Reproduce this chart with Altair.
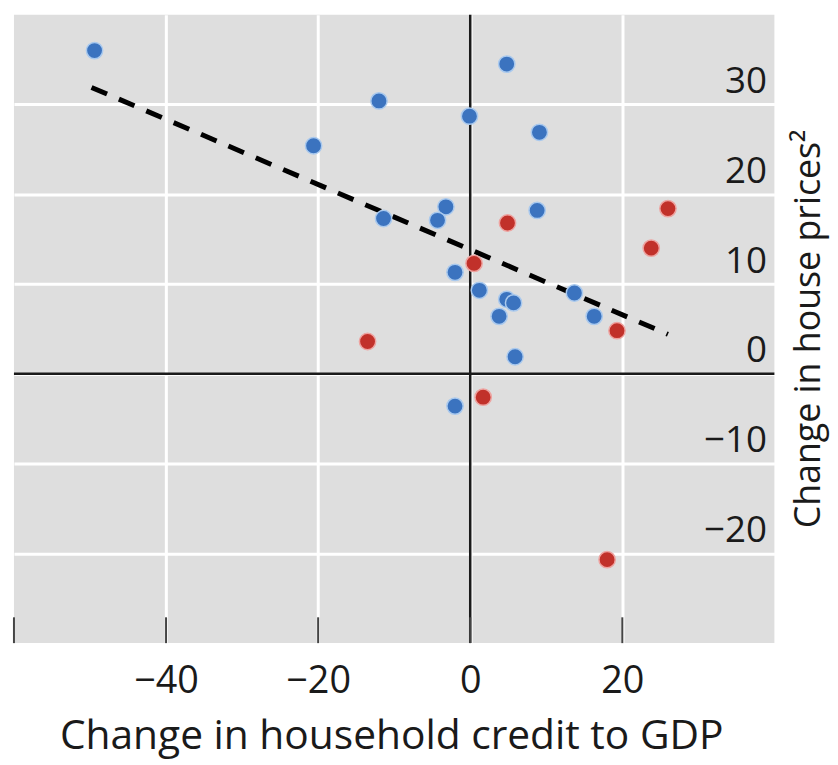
import altair as alt
import pandas as pd

# ---- data ----
blue_x = [-49.4, 4.8, -12.0, -0.1, 9.1, -20.6, 8.8, -3.2, -4.3, -11.4,
          -2.0, 1.2, 4.8, 5.7, 3.8, 13.7, 16.3, 5.9, -2.0]
blue_y = [36.0, 34.5, 30.4, 28.7, 26.9, 25.4, 18.2, 18.6, 17.1, 17.3,
          11.3, 9.3, 8.3, 7.9, 6.4, 9.0, 6.4, 1.9, -3.6]
red_x = [4.9, 23.8, 26.0, 0.5, -13.5, 19.3, 1.7, 18.0]
red_y = [16.8, 14.0, 18.4, 12.3, 3.6, 4.8, -2.6, -20.7]

fit_x = [-49.8, 26.0]
fit_y = [31.9, 4.4]

x_ticks = [-60, -40, -20, 0, 20]
x_labels = [-40, -20, 0, 20]
y_labels = [-20, -10, 0, 10, 20, 30]
x_domain = [-60, 40]
y_domain = [-30, 40]

x_title = "Change in household credit to GDP"
y_title = "Change in house prices\u00b2"

W, H = 766, 633
FONT = "Open Sans"

points = pd.DataFrame({
    "x": blue_x + red_x,
    "y": blue_y + red_y,
    "group": ["blue"] * len(blue_x) + ["red"] * len(red_x),
})
fit = pd.DataFrame({"x": fit_x, "y": fit_y})
ticks = pd.DataFrame({"x": x_ticks})
zero_x = pd.DataFrame({"x": [0]})
zero_y = pd.DataFrame({"y": [0]})

xaxis = alt.Axis(values=x_labels, grid=True, gridColor="white", gridWidth=3,
                 domain=False, ticks=False, tickSize=0,
                 labelFont=FONT, labelFontSize=38, labelColor="#1a1a1a",
                 labelBaseline="alphabetic", labelPadding=50,
                 title=x_title, titleFont=FONT, titleFontSize=41,
                 titleFontWeight="normal", titleColor="#1a1a1a",
                 titleBaseline="alphabetic", titleX=380, titleY=106)
yaxis = alt.Axis(orient="right", values=y_labels, grid=True, gridColor="white",
                 gridWidth=3, domain=False, ticks=False, tickSize=0,
                 labelFont=FONT, labelFontSize=37, labelColor="#1a1a1a",
                 labelAlign="right", labelPadding=-8, labelBaseline="alphabetic",
                 labelOffset=-12,
                 title=y_title, titleFont=FONT, titleFontSize=36,
                 titleFontWeight="normal", titleColor="#1a1a1a",
                 titleAngle=270, titleAlign="center", titleBaseline="alphabetic",
                 titleX=45, titleY=316)

xs = alt.Scale(domain=x_domain, nice=False, zero=False)
ys = alt.Scale(domain=y_domain, nice=False, zero=False)

X = alt.X("x:Q", scale=xs, axis=xaxis)
Y = alt.Y("y:Q", scale=ys, axis=yaxis)

vline = alt.Chart(zero_x).mark_rule(color="#1a1a1a", strokeWidth=2.5).encode(
    x=X, y=alt.value(0), y2=alt.value(H))
hline = alt.Chart(zero_y).mark_rule(color="#1a1a1a", strokeWidth=2.5).encode(
    y=Y, x=alt.value(0), x2=alt.value(W))
tick_rules = alt.Chart(ticks).mark_rule(color="#444444", strokeWidth=2).encode(
    x=X, y=alt.value(H - 26), y2=alt.value(H))
fit_line = alt.Chart(fit).mark_line(color="black", strokeWidth=5,
                                    strokeDash=[17, 13]).encode(x=X, y=Y)
dots = alt.Chart(points).mark_circle(size=270, opacity=1, strokeWidth=1.5).encode(
    x=X, y=Y,
    color=alt.Color("group:N", scale=alt.Scale(domain=["blue", "red"],
                                               range=["#3b73bf", "#c1312a"]),
                    legend=None),
    stroke=alt.Stroke("group:N", scale=alt.Scale(domain=["blue", "red"],
                                                 range=["#a9c9ee", "#eea3a0"]),
                      legend=None),
)

chart = alt.layer(vline, hline, tick_rules, fit_line, dots).properties(
    width=W, height=H,
    autosize=alt.AutoSizeParams(type="none"),
    padding={"left": 6, "top": 4, "right": 56, "bottom": 118},
).configure_view(fill="#dedede", stroke=None)

chart.save("out.html", embed_options={"renderer": "svg", "actions": False})
